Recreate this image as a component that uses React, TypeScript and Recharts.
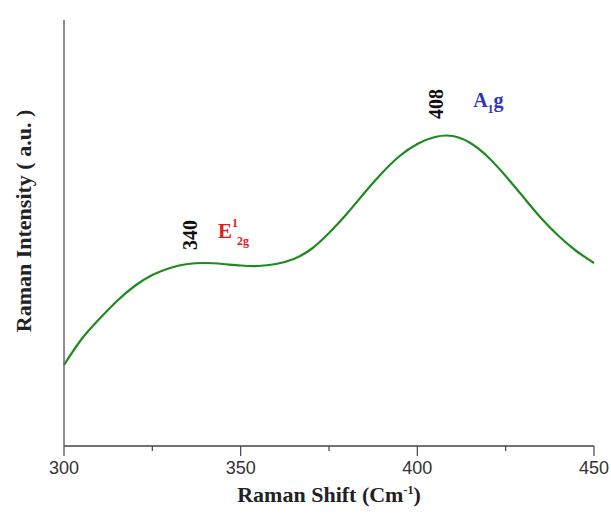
import React from "react";
import { LineChart, Line, XAxis, YAxis, ReferenceDot } from "recharts";

const ramanShift = [300, 305, 310, 315, 320, 325, 330, 335, 340, 345, 350, 355, 360, 365, 370, 375, 380, 385, 390, 395, 400, 405, 410, 415, 420, 425, 430, 435, 440, 445, 450];
const intensity = [81, 107, 127, 145, 160, 171, 178, 182, 183, 182, 180.5, 180, 182, 187, 197, 213, 232, 253, 273, 290, 302, 309, 310, 303, 289, 270, 249, 228, 210, 195, 183];
const xTicks = [300, 325, 350, 375, 400, 425, 450];
const majorTicks = [300, 350, 400, 450];

const data = ramanShift.map((x, i) => ({ x, y: intensity[i] }));

const serif = "'Liberation Serif', 'Times New Roman', serif";
const sans = "'Liberation Sans', Arial, sans-serif";

const XTick = (props: any) => {
  const { x, y, payload } = props;
  const major = majorTicks.includes(payload.value);
  return (
    <g>
      <line x1={x} y1={y} x2={x} y2={y + (major ? 10 : 5)} stroke="#444" strokeWidth={1.2} />
      {major && (
        <text x={x} y={y + 28} textAnchor="middle" fontFamily={sans} fontSize={18} fill="#333">
          {payload.value}
        </text>
      )}
    </g>
  );
};

const XTitle = (props: any) => {
  const vb = props.viewBox;
  return (
    <text x={vb.x + vb.width / 2} y={vb.y + 56} textAnchor="middle" fontFamily={serif} fontWeight="bold" fontSize={22} fill="#222">
      Raman Shift (Cm
      <tspan dy={-8} fontSize={12}>-1</tspan>
      <tspan dy={8}>)</tspan>
    </text>
  );
};

const YTitle = (props: any) => {
  const vb = props.viewBox;
  const cx = vb.x + 22;
  const cy = vb.y + vb.height / 2 - 12;
  return (
    <text x={cx} y={cy} transform={`rotate(-90 ${cx} ${cy})`} textAnchor="middle" dominantBaseline="middle" fontFamily={serif} fontWeight="bold" fontSize={22} fill="#222">
      Raman Intensity ( a.u. )
    </text>
  );
};

const RotLabel = (text: string) => (props: any) => {
  const vb = props.viewBox;
  const cx = vb.x;
  const cy = vb.y;
  return (
    <text x={cx} y={cy} transform={`rotate(-90 ${cx} ${cy})`} textAnchor="middle" dominantBaseline="middle" fontFamily={serif} fontWeight="bold" fontSize={20} fill="#111">
      {text}
    </text>
  );
};

const E2gLabel = (props: any) => {
  const vb = props.viewBox;
  return (
    <text x={vb.x} y={vb.y} fontFamily={serif} fontWeight="bold" fontSize={21} fill="#e0201c">
      E
      <tspan dy={-11} fontSize={12}>1</tspan>
      <tspan dx={-1} dy={18} fontSize={12}>2g</tspan>
    </text>
  );
};

const A1gLabel = (props: any) => {
  const vb = props.viewBox;
  return (
    <text x={vb.x} y={vb.y} fontFamily={serif} fontWeight="bold" fontSize={20} fill="#2b35c8">
      A
      <tspan dy={6} fontSize={12}>1</tspan>
      <tspan dy={-6}>g</tspan>
    </text>
  );
};

export default function App() {
  return (
    <div style={{ position: "absolute", left: 0, top: 0, background: "#fff" }}>
      <LineChart width={611} height={515} data={data} margin={{ top: 20, right: 17, bottom: 29, left: 4 }}>
        <XAxis
          dataKey="x"
          type="number"
          domain={[300, 450]}
          ticks={xTicks}
          tick={<XTick />}
          tickLine={false}
          tickSize={0}
          tickMargin={0}
          axisLine={{ stroke: "#444", strokeWidth: 1.5 }}
          height={40}
          interval={0}
          label={<XTitle />}
        />
        <YAxis
          type="number"
          domain={[0, 426]}
          tick={false}
          tickLine={false}
          width={60}
          axisLine={{ stroke: "#666", strokeWidth: 1.5 }}
          label={<YTitle />}
        />
        <Line type="natural" dataKey="y" stroke="#1f8a1f" strokeWidth={2.2} dot={false} isAnimationActive={false} />
        <ReferenceDot x={336.2} y={211} r={0} fill="none" stroke="none" label={RotLabel("340")} />
        <ReferenceDot x={343.6} y={208} r={0} fill="none" stroke="none" label={<E2gLabel />} />
        <ReferenceDot x={406.1} y={342} r={0} fill="none" stroke="none" label={RotLabel("408")} />
        <ReferenceDot x={415.8} y={339} r={0} fill="none" stroke="none" label={<A1gLabel />} />
      </LineChart>
    </div>
  );
}
